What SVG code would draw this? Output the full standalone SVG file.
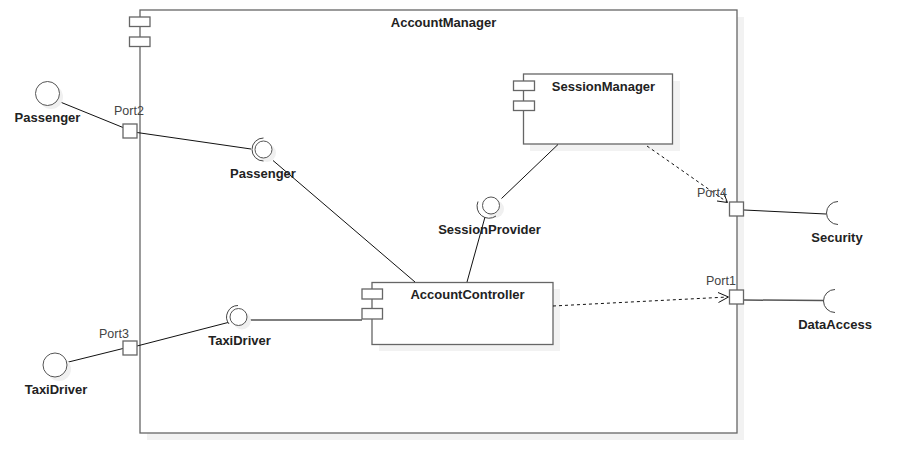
<svg xmlns="http://www.w3.org/2000/svg" width="916" height="473" viewBox="0 0 916 473">
<style>
.box{fill:#fff;stroke:#666;stroke-width:1.3}
.shadow{fill:#f2f2f2;stroke:none}
.tab{fill:#fff;stroke:#666;stroke-width:1.3}
.title{font-family:"Liberation Sans",Arial,sans-serif;font-size:13px;font-weight:bold;fill:#222;text-anchor:middle}
.lbl{font-family:"Liberation Sans",Arial,sans-serif;font-size:13px;font-weight:bold;fill:#222;text-anchor:middle}
.port{fill:#fff;stroke:#666;stroke-width:1.3}
.plbl{font-family:"Liberation Sans",Arial,sans-serif;font-size:12.5px;fill:#444}
.ball{fill:#fff;stroke:#555;stroke-width:1}
.bshadow{fill:#f0f0f0;stroke:none}
.sock{fill:none;stroke:#444;stroke-width:1}
.line{stroke:#111;stroke-width:1;fill:none}
.gline{stroke:#555;stroke-width:1.5;fill:none}
.dash{stroke:#111;stroke-width:1;fill:none;stroke-dasharray:3,3}
.arrow{stroke:#111;stroke-width:1;fill:none}
</style>

<g id="AccountManager">
<rect class="shadow" x="147" y="17" width="597" height="423"/>
<rect class="box" x="140" y="10" width="597" height="423"/>
<rect class="tab" x="129.5" y="17" width="20.5" height="9.5"/>
<rect class="tab" x="129.5" y="37" width="20.5" height="9.5"/>
<text class="title" x="443.5" y="27">AccountManager</text>
</g>

<g id="SessionManager">
<rect class="shadow" x="530" y="81" width="150" height="70"/>
<rect class="box" x="523.5" y="74" width="149" height="70"/>
<rect class="tab" x="513.5" y="81" width="21" height="9.5"/>
<rect class="tab" x="513.5" y="101" width="21" height="9.5"/>
<text class="title" x="603.5" y="91">SessionManager</text>
</g>

<g id="AccountController">
<rect class="shadow" x="379" y="289" width="181" height="62"/>
<rect class="box" x="372" y="282.5" width="181" height="62"/>
<rect class="tab" x="362" y="289" width="20.5" height="10"/>
<rect class="tab" x="362" y="308.5" width="20.5" height="10.5"/>
<text class="title" x="467.5" y="299">AccountController</text>
</g>

<g id="connectors">
<line class="line" x1="59" y1="101.5" x2="123" y2="127.5"/>
<line class="line" x1="137" y1="132.5" x2="251" y2="149"/>
<line class="line" x1="273" y1="160.5" x2="415" y2="282"/>
<line class="line" x1="558" y1="144.5" x2="501.5" y2="198.5"/>
<line class="line" x1="467" y1="282" x2="485" y2="217"/>
<line class="line" x1="66.5" y1="362.5" x2="123" y2="348.5"/>
<line class="line" x1="137" y1="346" x2="228" y2="322.5"/>
<line class="gline" x1="247.5" y1="320" x2="362" y2="320"/>
<line class="line" x1="744" y1="210" x2="826" y2="214"/>
<line class="gline" x1="744" y1="300" x2="823" y2="300.5"/>
<line class="dash" x1="647" y1="146" x2="727" y2="202"/>
<polyline class="arrow" points="717,201 727.5,202.5 723.5,192.5"/>
<line class="dash" x1="553" y1="306" x2="728" y2="297"/>
<polyline class="arrow" points="718,292.5 728.5,297 718.5,302.5"/>
</g>

<g id="Port2">
<rect class="port" x="123" y="124" width="14" height="14"/>
<text class="plbl" x="114" y="115">Port2</text>
</g>
<g id="Port3">
<rect class="port" x="123" y="341" width="14" height="14"/>
<text class="plbl" x="99" y="338">Port3</text>
</g>
<g id="Port4">
<rect class="port" x="729.5" y="202" width="14" height="14"/>
<text class="plbl" x="697" y="197">Port4</text>
</g>
<g id="Port1">
<rect class="port" x="729.5" y="290" width="14" height="14"/>
<text class="plbl" x="706" y="285">Port1</text>
</g>

<g id="PassengerExt">
<circle class="bshadow" cx="51" cy="97" r="12"/>
<circle class="ball" cx="47.5" cy="93.5" r="12"/>
<text class="lbl" x="47.5" y="122">Passenger</text>
</g>

<g id="TaxiDriverExt">
<circle class="bshadow" cx="59" cy="369" r="12"/>
<circle class="ball" cx="55" cy="365" r="12"/>
<text class="lbl" x="56" y="394">TaxiDriver</text>
</g>

<g id="PassengerInt">
<circle class="bshadow" cx="267" cy="153" r="9"/>
<circle class="ball" cx="263.5" cy="149.5" r="8.5"/>
<path class="sock" d="M263.5,138 A11.5,11.5 0 0 0 263.5,161"/>
<text class="lbl" x="263" y="178">Passenger</text>
</g>

<g id="SessionProvider">
<circle class="bshadow" cx="495" cy="209" r="9"/>
<circle class="ball" cx="491" cy="205.5" r="8.5"/>
<path class="sock" d="M478,201.5 A12,12 0 0 0 496,216"/>
<text class="lbl" x="489.5" y="234">SessionProvider</text>
</g>

<g id="TaxiDriverInt">
<circle class="bshadow" cx="242" cy="320.5" r="9"/>
<circle class="ball" cx="238.5" cy="317" r="8.5"/>
<path class="sock" d="M238,305.5 A11.5,11.5 0 0 0 229,324"/>
<text class="lbl" x="239.5" y="345">TaxiDriver</text>
</g>

<g id="Security">
<path class="sock" d="M838,201.5 A11.5,11.5 0 0 0 838,224.5"/>
<text class="lbl" x="837" y="242">Security</text>
</g>

<g id="DataAccess">
<path class="sock" d="M835,289.5 A11.5,11.5 0 0 0 835,312.5"/>
<text class="lbl" x="835" y="329">DataAccess</text>
</g>
</svg>
